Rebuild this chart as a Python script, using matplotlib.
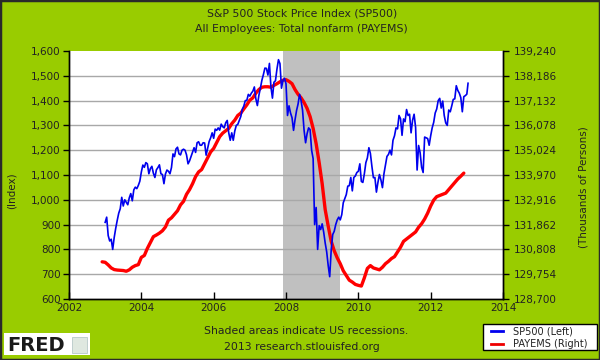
import matplotlib
matplotlib.use("Agg")
import matplotlib.pyplot as plt
from matplotlib.patches import Rectangle
from matplotlib.lines import Line2D
import numpy as np

# ---------------- data ----------------
# S&P 500: first value 2 Jan 2003, then (mid-month, month-end) pairs Jan 2003 .. Dec 2012, then mid Jan 2013
sp500_first = 909
sp500_pairs = [
    # 2003
    930, 856, 834, 841, 800, 848, 885, 917, 946, 964, 1010, 975,
    1000, 990, 980, 1008, 1025, 996, 1040, 1051, 1045, 1058, 1075, 1112,
    # 2004
    1140, 1131, 1150, 1145, 1105, 1126, 1135, 1107, 1090, 1121, 1130, 1141,
    1105, 1102, 1065, 1104, 1120, 1115, 1105, 1130, 1185, 1174, 1205, 1212,
    # 2005
    1185, 1181, 1200, 1204, 1200, 1181, 1145, 1157, 1175, 1192, 1210, 1191,
    1230, 1234, 1220, 1220, 1230, 1229, 1180, 1207, 1235, 1250, 1270, 1248,
    # 2006
    1285, 1280, 1290, 1281, 1305, 1295, 1290, 1311, 1320, 1270, 1240, 1270,
    1240, 1277, 1300, 1304, 1320, 1336, 1365, 1378, 1400, 1401, 1425, 1418,
    # 2007
    1430, 1438, 1455, 1407, 1380, 1421, 1450, 1482, 1505, 1531, 1530, 1503,
    1550, 1455, 1410, 1474, 1480, 1527, 1565, 1549, 1450, 1481, 1490, 1468,
    # 2008
    1340, 1379, 1350, 1331, 1280, 1323, 1360, 1386, 1425, 1400, 1360, 1280,
    1230, 1267, 1290, 1283, 1200, 1166, 900, 969, 800, 896, 880, 903,
    # 2009
    870, 826, 790, 735, 690, 798, 860, 873, 900, 919, 930, 919,
    940, 988, 1005, 1021, 1055, 1057, 1090, 1036, 1090, 1096, 1110, 1115,
    # 2010
    1145, 1074, 1070, 1105, 1150, 1169, 1210, 1187, 1135, 1089, 1090, 1031,
    1070, 1102, 1080, 1049, 1105, 1141, 1175, 1183, 1200, 1181, 1240, 1258,
    # 2011
    1290, 1286, 1340, 1327, 1260, 1326, 1315, 1364, 1340, 1345, 1270, 1321,
    1345, 1292, 1120, 1219, 1190, 1131, 1110, 1253, 1250, 1247, 1220, 1258,
    # 2012
    1290, 1312, 1350, 1366, 1400, 1409, 1370, 1398, 1340, 1310, 1300, 1362,
    1355, 1379, 1405, 1407, 1460, 1441, 1430, 1412, 1355, 1416, 1420, 1426,
]
sp500_last = 1470

# PAYEMS monthly, Dec 2002 .. Dec 2012 (thousands)
payems = [
    130280,
    130260, 130150, 130020, 129950, 129930, 129920, 129910, 129880, 129940, 130050, 130120, 130160,
    130470, 130550, 130850, 131100, 131350, 131420, 131500, 131600, 131760, 132050, 132150, 132300,
    132450, 132700, 132850, 133150, 133350, 133600, 133900, 134100, 134200, 134450, 134700, 134950,
    135100, 135350, 135600, 135750, 135850, 135950, 136150, 136300, 136500, 136600, 136780, 136950,
    137150, 137250, 137450, 137600, 137700, 137720, 137720, 137700, 137780, 137850, 137930, 138000,
    138020, 137950, 137850, 137600, 137400, 137250, 137050, 136800, 136450, 135950, 135300, 134500,
    133600, 132500, 131800, 131150, 130750, 130450, 130200, 129900, 129700, 129500, 129420, 129320,
    129280, 129250, 129600, 130000, 130120, 130020, 129980, 129940, 130050, 130200, 130300, 130420,
    130500, 130700, 130900, 131150, 131250, 131350, 131450, 131550, 131750, 131900, 132100, 132350,
    132650, 132900, 133050, 133100, 133150, 133200, 133350, 133500, 133650, 133800, 133920, 134050,
]

recession = (2007.917, 2009.5)
left_ticks = [600, 700, 800, 900, 1000, 1100, 1200, 1300, 1400, 1500, 1600]
right_ticks = [128700, 129754, 130808, 131862, 132916, 133970, 135024, 136078, 137132, 138186, 139240]
x_ticks = [2002, 2004, 2006, 2008, 2010, 2012, 2014]

# --------------- positions -----------------
n_months = len(sp500_pairs) // 2
sp_x = [2003.0]
sp_y = [sp500_first]
for i in range(n_months):
    base = 2003 + i / 12.0
    sp_x += [base + 0.5 / 12, base + 1.0 / 12]
    sp_y += [sp500_pairs[2 * i], sp500_pairs[2 * i + 1]]
sp_x.append(2013 + 0.4 / 12)
sp_y.append(sp500_last)

pay_x = 2002 + 11 / 12 + np.arange(len(payems)) / 12.0

# --------------- style -----------------
GREEN = "#99cc00"
TXT = "#222222"
plt.rcParams["font.family"] = ["DejaVu Sans"]

fig = plt.figure(figsize=(6, 3.6), dpi=100, facecolor=GREEN)
ax2 = fig.add_axes([69 / 600, 1 - 299 / 360, (503 - 69) / 600, (299 - 51) / 360])  # right axis (bottom layer)
ax2.set_facecolor("white")
ax2.yaxis.tick_right()
ax2.yaxis.set_label_position("right")
ax = fig.add_axes(ax2.get_position(), sharex=ax2)  # left axis (top layer)
ax.patch.set_visible(False)

ax2.axvspan(recession[0], recession[1], color="#c0c0c0", zorder=1, lw=0)
for t in right_ticks[1:-1]:
    ax2.axhline(t, color="#a8a8a8", lw=1.0, zorder=2)
ax2.plot(pay_x, payems, color="#ff0000", lw=2.4, zorder=3, solid_capstyle="round")
ax2.set_ylim(128700, 139240)

ax.plot(sp_x, sp_y, color="#0000ee", lw=1.2, zorder=4)
ax.set_xlim(2002, 2014)
ax.set_ylim(600, 1600)

for a in (ax, ax2):
    a.spines["top"].set_visible(False)
    for s in ("left", "right", "bottom"):
        a.spines[s].set_color("black")
        a.spines[s].set_linewidth(1.0)

ax.set_xticks(x_ticks)
ax.set_xticklabels([str(t) for t in x_ticks])
ax2.tick_params(axis="x", which="both", bottom=False, labelbottom=False)
ax.set_yticks(left_ticks)
ax.set_yticklabels([f"{t:,}" for t in left_ticks])
ax2.set_yticks(right_ticks)
ax2.set_yticklabels([f"{t:,}" for t in right_ticks])

ax.tick_params(axis="x", direction="in", length=5, width=1, pad=3, labelsize=7.5, colors="black", labelcolor=TXT)
ax.tick_params(axis="y", direction="out", length=4, width=1, pad=2, labelsize=7.5, colors="black", labelcolor=TXT)
ax2.tick_params(axis="y", direction="out", length=4, width=1, pad=4, labelsize=7.5, colors="black", labelcolor=TXT)

ax.set_ylabel("(Index)", fontsize=7.5, color=TXT)
ax.yaxis.set_label_coords((17 - 69) / 434, (299 - 191) / 248)
ax2.set_ylabel("(Thousands of Persons)", fontsize=7.5, color=TXT)
ax2.yaxis.set_label_coords((579 - 69) / 434, (299 - 187) / 248)

# titles
fig.text(0.503, 1 - 13 / 360, "S&P 500 Stock Price Index (SP500)", ha="center", va="center", fontsize=7.8, color=TXT)
fig.text(0.503, 1 - 29 / 360, "All Employees: Total nonfarm (PAYEMS)", ha="center", va="center", fontsize=7.8, color=TXT)

# footer
fig.text(306 / 600, 1 - 331 / 360, "Shaded areas indicate US recessions.", ha="center", va="center", fontsize=7.8, color=TXT)
fig.text(302 / 600, 1 - 347 / 360, "2013 research.stlouisfed.org", ha="center", va="center", fontsize=7.8, color=TXT)

# legend
leg_box = Rectangle((483 / 600, 1 - 350 / 360), (597 - 483) / 600, (350 - 324) / 360,
                    transform=fig.transFigure, facecolor="white", edgecolor="black", lw=1.0)
fig.patches.append(leg_box)
for yy, col, lab in ((331, "#0000ee", "SP500 (Left)"), (344, "#ee0000", "PAYEMS (Right)")):
    fig.lines.append(Line2D([491 / 600, 503 / 600], [1 - yy / 360, 1 - yy / 360],
                            transform=fig.transFigure, color=col, lw=2.0))
    fig.text(513 / 600, 1 - yy / 360, lab, ha="left", va="center", fontsize=7, color=TXT)

# FRED logo
logo = Rectangle((4 / 600, 1 - 355 / 360), 86 / 600, 22 / 360, transform=fig.transFigure,
                 facecolor="white", edgecolor="none")
fig.patches.append(logo)
fig.text(7 / 600, 1 - 345.5 / 360, "FRED", ha="left", va="center", fontsize=14, fontweight="bold",
         color="#1a1a1a", family=["DejaVu Sans"])
icon = Rectangle((72 / 600, 1 - 353 / 360), 15 / 600, 16 / 360, transform=fig.transFigure,
                 facecolor="#dfe8e0", edgecolor="#b8c8c8", lw=0.6)
fig.patches.append(icon)

# figure border
border = Rectangle((0, 0), 1, 1, transform=fig.transFigure, facecolor="none", edgecolor="#2a2a2a", lw=2.5)
fig.patches.append(border)

fig.savefig("out.png", dpi=100, facecolor=GREEN)
